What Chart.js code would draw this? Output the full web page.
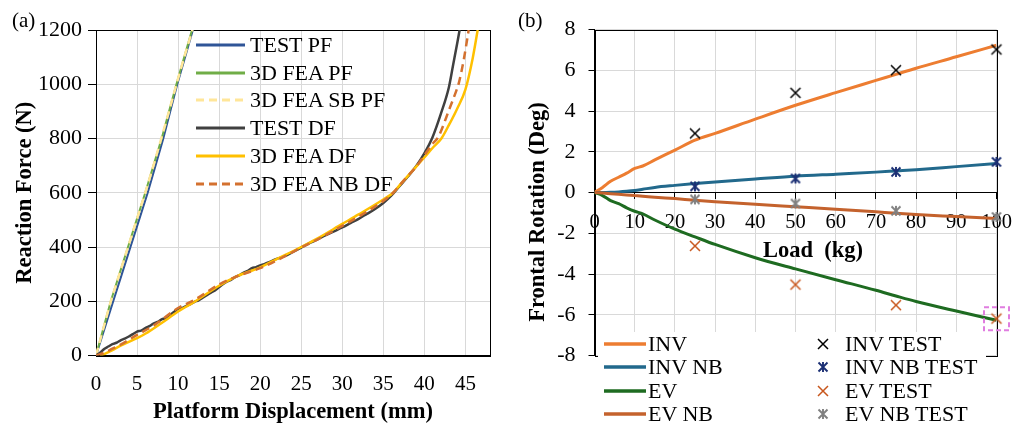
<!DOCTYPE html>
<html>
<head>
<meta charset="utf-8">
<script src="https://cdn.jsdelivr.net/npm/chart.js@4.4.1/dist/chart.umd.min.js"></script>
<style>
    body { margin: 0; background: #fff; }
    #wrap { position: relative; width: 1025px; height: 427px; overflow: hidden; font-family: 'Liberation Serif', 'Times New Roman', serif; color: #000; }
    canvas { position: absolute; top: 0; }
    .tag { position: absolute; font-size: 21px; line-height: 21px; }
    .legend { position: absolute; font-size: 22px; }
    .legend .row { display: flex; align-items: center; white-space: nowrap; }
    .legend svg, .legend img { flex: none; }
    .axis-title { position: absolute; font-weight: bold; font-size: 22.5px; line-height: 22px; white-space: pre; transform: translate(-50%, -50%); }
</style>
</head>
<body>
<div id="wrap">
    <canvas id="chartA" width="510" height="427" style="left:0"></canvas>
    <canvas id="chartB" width="515" height="427" style="left:510px"></canvas>
    <div class="tag" style="left:12px;top:10px">(a)</div>
    <div class="tag" style="left:518px;top:10px">(b)</div>
    <div id="legendA" class="legend" style="left:196px;top:31px"></div>
    <div id="legendB" class="legend" style="left:598px;top:332px;width:388px;height:95px;background:#fff"></div>
    <div class="axis-title" style="left:537px;top:212px;transform:translate(-50%,-50%) rotate(-90deg)">Frontal Rotation (Deg)</div>
    <div class="axis-title" style="left:813px;top:250px">Load  (kg)</div>
</div>
<script>
// ============================================
// PANEL (a) DATA
// ============================================
const forceTicks = [0, 200, 400, 600, 800, 1000, 1200];
const dispTicks = [0, 5, 10, 15, 20, 25, 30, 35, 40, 45];

const testPfX = [0, 1.0, 2.1, 3.15, 4.2, 5.25, 6.3, 7.25, 8.2, 9.05, 9.9, 10.85, 11.8];
const testPfY = [0, 95, 200, 300, 400, 500, 600, 700, 800, 900, 1000, 1100, 1200];
const feaPfX = [0, 0.85, 1.8, 2.85, 3.9, 4.95, 6.0, 7.0, 8.0, 8.9, 9.8, 10.75, 11.7];
const feaPfY = [0, 95, 200, 300, 400, 500, 600, 700, 800, 900, 1000, 1100, 1200];
const sbPfX = [0, 0.85, 1.8, 2.85, 3.9, 4.95, 6.0, 7.0, 7.95, 8.9, 9.8, 10.75, 11.75];
const sbPfY = [0, 95, 200, 300, 400, 500, 600, 700, 800, 900, 1000, 1100, 1200];

const testDfX = [0, 0.5, 1, 1.5, 2, 2.5, 3, 3.5, 4, 4.5, 5, 5.5, 6, 6.5, 7, 7.5, 8, 8.5, 9, 9.5, 10, 10.5, 11, 11.5,
    12, 12.5, 13, 13.5, 14, 14.5, 15, 15.5, 16, 16.5, 17, 17.5, 18, 18.5, 19, 19.5, 20, 20.5, 21, 21.5, 22, 23, 24,
    25, 26, 27, 28, 29, 30, 31, 32, 33, 34, 35, 36, 37, 38, 39, 40, 41, 42, 43, 43.5, 44, 44.3];
const testDfY = [0, 10, 24, 33, 42, 47, 56, 62, 70, 79, 88, 92, 101, 108, 118, 124, 133, 138, 150, 160, 172, 175, 183,
    189, 198, 203, 213, 222, 232, 240, 252, 264, 273, 280, 290, 296, 306, 312, 322, 326, 332, 337, 343, 350, 356, 366,
    382, 398, 414, 428, 444, 458, 472, 488, 504, 522, 540, 562, 590, 625, 660, 698, 745, 805, 890, 990, 1070, 1150,
    1200];
const feaDfX = [0.5, 1, 2, 3, 4, 5, 6, 8, 10, 12, 15, 17, 20, 22, 25, 27, 30, 32, 35, 36.2, 37, 38, 39.2, 40, 41, 42.1,
    43, 44, 45, 45.9, 46.5];
const feaDfY = [0, 5, 20, 36, 50, 64, 80, 120, 162, 198, 257, 290, 325, 355, 400, 432, 485, 520, 575, 600, 628, 662, 703,
    730, 765, 801, 850, 910, 980, 1097, 1200];
const nbDfX = [0, 1, 2, 3, 5, 7, 10, 12, 15, 17, 20, 22, 25, 27, 30, 32, 35, 36.2, 37, 38, 39.2, 40, 41, 41.6, 42, 43,
    44, 44.2, 44.8, 45.4];
const nbDfY = [0, 10, 25, 40, 76, 110, 175, 205, 262, 290, 322, 350, 398, 428, 478, 512, 570, 600, 628, 662, 703, 738,
    780, 801, 825, 905, 985, 1004, 1090, 1200];

// ============================================
// PANEL (b) DATA
// ============================================
const rotTicks = [-8, -6, -4, -2, 0, 2, 4, 6, 8];
const loadTicks = [0, 10, 20, 30, 40, 50, 60, 70, 80, 90, 100];

const loads = [0, 2, 4, 6, 8, 10, 12, 15, 20, 25, 30, 40, 50, 60, 70, 75, 80, 90, 100];
const invRot = [0, 0.25, 0.55, 0.75, 0.95, 1.18, 1.3, 1.6, 2.08, 2.57, 2.9, 3.6, 4.28, 4.9, 5.5, 5.8, 6.1, 6.66, 7.23];
const invNbRot = [0, 0, 0.01, 0.03, 0.06, 0.1, 0.16, 0.25, 0.35, 0.44, 0.52, 0.66, 0.8, 0.9, 1.0, 1.06, 1.12, 1.27, 1.42];
const evRot = [0, -0.15, -0.4, -0.55, -0.75, -0.92, -1.05, -1.35, -1.8, -2.18, -2.55, -3.2, -3.75, -4.28, -4.8, -5.08,
    -5.35, -5.82, -6.27];
const evNbRot = [0, -0.03, -0.06, -0.09, -0.12, -0.15, -0.18, -0.23, -0.3, -0.38, -0.45, -0.58, -0.7, -0.82, -0.95, -1.02,
    -1.08, -1.18, -1.28];

const testLoads = [25, 50, 75, 100];
const invTest = [2.9, 4.89, 6.0, 7.02];
const invNbTest = [0.3, 0.69, 1.01, 1.5];
const evTest = [-2.62, -4.52, -5.53, -6.19];
const evNbTest = [-0.34, -0.54, -0.9, -1.2];

const highlightPoint = { x: 100, y: -6.2 };

// ============================================
// SERIES SETUP
// ============================================
const seriesA = [
    { label: 'TEST PF', x: testPfX, y: testPfY, color: '#2F5597', width: 2 },
    { label: '3D FEA PF', x: feaPfX, y: feaPfY, color: '#70AD47', width: 2 },
    { label: '3D FEA SB PF', x: sbPfX, y: sbPfY, color: '#FFE699', width: 2.5, dash: [8, 5] },
    { label: 'TEST DF', x: testDfX, y: testDfY, color: '#404040', width: 2.5, smooth: true },
    { label: '3D FEA DF', x: feaDfX, y: feaDfY, color: '#FFC000', width: 2.5, smooth: true },
    { label: '3D FEA NB DF', x: nbDfX, y: nbDfY, color: '#D4712F', width: 2.5, dash: [8, 5], smooth: true }
];

const linesB = [
    { label: 'INV', y: invRot, color: '#ED7D31' },
    { label: 'INV NB', y: invNbRot, color: '#22698C' },
    { label: 'EV', y: evRot, color: '#1E6B21' },
    { label: 'EV NB', y: evNbRot, color: '#C4622D' }
];

const testsB = [
    { label: 'INV TEST', y: invTest, color: '#000000', star: false },
    { label: 'INV NB TEST', y: invNbTest, color: '#1B2F74', star: true },
    { label: 'EV TEST', y: evTest, color: '#C8561C', star: false },
    { label: 'EV NB TEST', y: evNbTest, color: '#808080', star: true }
];

const FONT = "'Liberation Serif', 'Times New Roman', serif";
const GRID = '#D9D9D9';
Chart.defaults.font.family = FONT;
Chart.defaults.color = '#000';

const plainTick = value => String(value);

function makeMarker(color, star) {
    const c = document.createElement('canvas');
    c.width = c.height = 14;
    const g = c.getContext('2d');
    const h = 7, r = star ? 4.5 : 5;
    g.strokeStyle = color;
    g.lineWidth = star ? 1.9 : 1.5;
    g.beginPath();
    g.moveTo(h - r, h - r); g.lineTo(h + r, h + r);
    g.moveTo(h + r, h - r); g.lineTo(h - r, h + r);
    if (star) { g.moveTo(h, h - r - 0.5); g.lineTo(h, h + r + 0.5); }
    g.stroke();
    return c;
}

// plot frame (top and right edges as in the original)
const frameBorder = {
    id: 'frameBorder',
    beforeDatasetsDraw(chart) {
        const { ctx, chartArea: a } = chart;
        ctx.save();
        ctx.strokeStyle = '#000';
        ctx.lineWidth = 1;
        ctx.strokeRect(Math.round(a.left) + 0.5, Math.round(a.top) + 0.5,
            Math.round(a.right - a.left), Math.round(a.bottom - a.top));
        ctx.restore();
    }
};

const highlightBox = {
    id: 'highlightBox',
    afterDatasetsDraw(chart) {
        const { ctx, scales: { x, y } } = chart;
        const cx = x.getPixelForValue(highlightPoint.x);
        const cy = y.getPixelForValue(highlightPoint.y);
        ctx.save();
        ctx.strokeStyle = '#E07DE0';
        ctx.lineWidth = 2;
        ctx.setLineDash([5, 3]);
        ctx.strokeRect(cx - 12.5, cy - 11.5, 25, 23);
        ctx.restore();
    }
};

// ============================================
// PANEL (a)
// ============================================
new Chart(document.getElementById('chartA'), {
    type: 'scatter',
    data: {
        datasets: seriesA.map((s, i) => ({
            label: s.label,
            data: s.x.map((x, k) => ({ x, y: s.y[k] })),
            showLine: true,
            borderColor: s.color,
            borderWidth: s.width,
            borderDash: s.dash || [],
            pointRadius: 0,
            cubicInterpolationMode: s.smooth ? 'monotone' : 'default',
            tension: 0,
            order: seriesA.length - i
        }))
    },
    options: {
        responsive: false,
        animation: false,
        layout: { padding: { top: 30, right: 20, left: 0, bottom: 0 } },
        plugins: { legend: { display: false }, tooltip: { enabled: false } },
        scales: {
            x: {
                type: 'linear', min: 0, max: 48,
                afterBuildTicks: axis => { axis.ticks = dispTicks.map(value => ({ value })); },
                afterFit: s => { s.height = 71.5; },
                grid: { color: GRID, drawTicks: false },
                border: { color: '#000' },
                ticks: { font: { family: FONT, size: 21 }, color: '#000', padding: 16, callback: plainTick },
                title: { display: true, text: 'Platform Displacement (mm)', color: '#000', padding: 1,
                    font: { family: FONT, size: 22.5, weight: 'bold' } }
            },
            y: {
                min: 0, max: 1200,
                afterBuildTicks: axis => { axis.ticks = forceTicks.map(value => ({ value })); },
                afterFit: s => { s.width = 96; },
                grid: { color: GRID, tickColor: '#000', tickLength: 8 },
                border: { color: '#000' },
                ticks: { font: { family: FONT, size: 22 }, color: '#000', padding: 6, callback: plainTick },
                title: { display: true, text: 'Reaction Force (N)', color: '#000', padding: { top: 12 },
                    font: { family: FONT, size: 22.5, weight: 'bold' } }
            }
        }
    },
    plugins: [frameBorder]
});

// ============================================
// PANEL (b)
// ============================================
const markerImgs = testsB.map(t => makeMarker(t.color, t.star));

new Chart(document.getElementById('chartB'), {
    type: 'scatter',
    data: {
        datasets: [
            ...linesB.map((s, i) => ({
                label: s.label,
                data: loads.map((x, k) => ({ x, y: s.y[k] })),
                showLine: true,
                borderColor: s.color,
                borderWidth: 3,
                pointRadius: 0,
                cubicInterpolationMode: 'monotone',
                order: 20 - i
            })),
            ...testsB.map((t, i) => ({
                label: t.label,
                data: testLoads.map((x, k) => ({ x, y: t.y[k] })),
                pointStyle: markerImgs[i],
                pointRadius: 7,
                clip: false,
                order: 10 - i
            }))
        ]
    },
    options: {
        responsive: false,
        animation: false,
        layout: { padding: { top: 29.5, right: 28.5, left: 0, bottom: 71.5 } },
        plugins: { legend: { display: false }, tooltip: { enabled: false } },
        scales: {
            x: {
                type: 'linear', min: 0, max: 100, position: { y: 0 },
                afterBuildTicks: axis => { axis.ticks = loadTicks.map(value => ({ value })); },
                grid: { color: GRID, tickColor: '#000', tickLength: 6 },
                border: { color: '#000' },
                ticks: { font: { family: FONT, size: 20.5 }, color: '#000', padding: 12, callback: plainTick }
            },
            y: {
                min: -8, max: 8,
                afterBuildTicks: axis => { axis.ticks = rotTicks.map(value => ({ value })); },
                afterFit: s => { s.width = 84.5; },
                grid: { color: GRID, tickColor: '#000', tickLength: 6 },
                border: { color: '#000' },
                ticks: { font: { family: FONT, size: 22 }, color: '#000', padding: 13, callback: plainTick }
            }
        }
    },
    plugins: [frameBorder, highlightBox]
});

// ============================================
// LEGENDS
// ============================================
function lineSample(color, width, len, dash) {
    const d = dash ? ` stroke-dasharray="${dash.join(' ')}"` : '';
    return `<svg width="${len}" height="8"><line x1="0" y1="4" x2="${len}" y2="4" stroke="${color}" stroke-width="${width}"${d}/></svg>`;
}

document.getElementById('legendA').innerHTML = seriesA.map(s => `
    <div class="row" style="height:27.8px">
        ${lineSample(s.color, 3, 49, s.dash)}<span style="margin-left:5px">${s.label}</span>
    </div>`).join('');

const legendB = document.getElementById('legendB');
legendB.innerHTML = `
    <div style="position:absolute;left:6px;top:0">
        ${linesB.map(s => `<div class="row" style="height:23.5px">${lineSample(s.color, 3.5, 42, null)}<span style="margin-left:2px">${s.label}</span></div>`).join('')}
    </div>
    <div style="position:absolute;left:218px;top:0">
        ${testsB.map((t, i) => `<div class="row" style="height:23.5px"><img src="${markerImgs[i].toDataURL()}" width="14" height="14"><span style="margin-left:15px">${t.label}</span></div>`).join('')}
    </div>`;
</script>
</body>
</html>
